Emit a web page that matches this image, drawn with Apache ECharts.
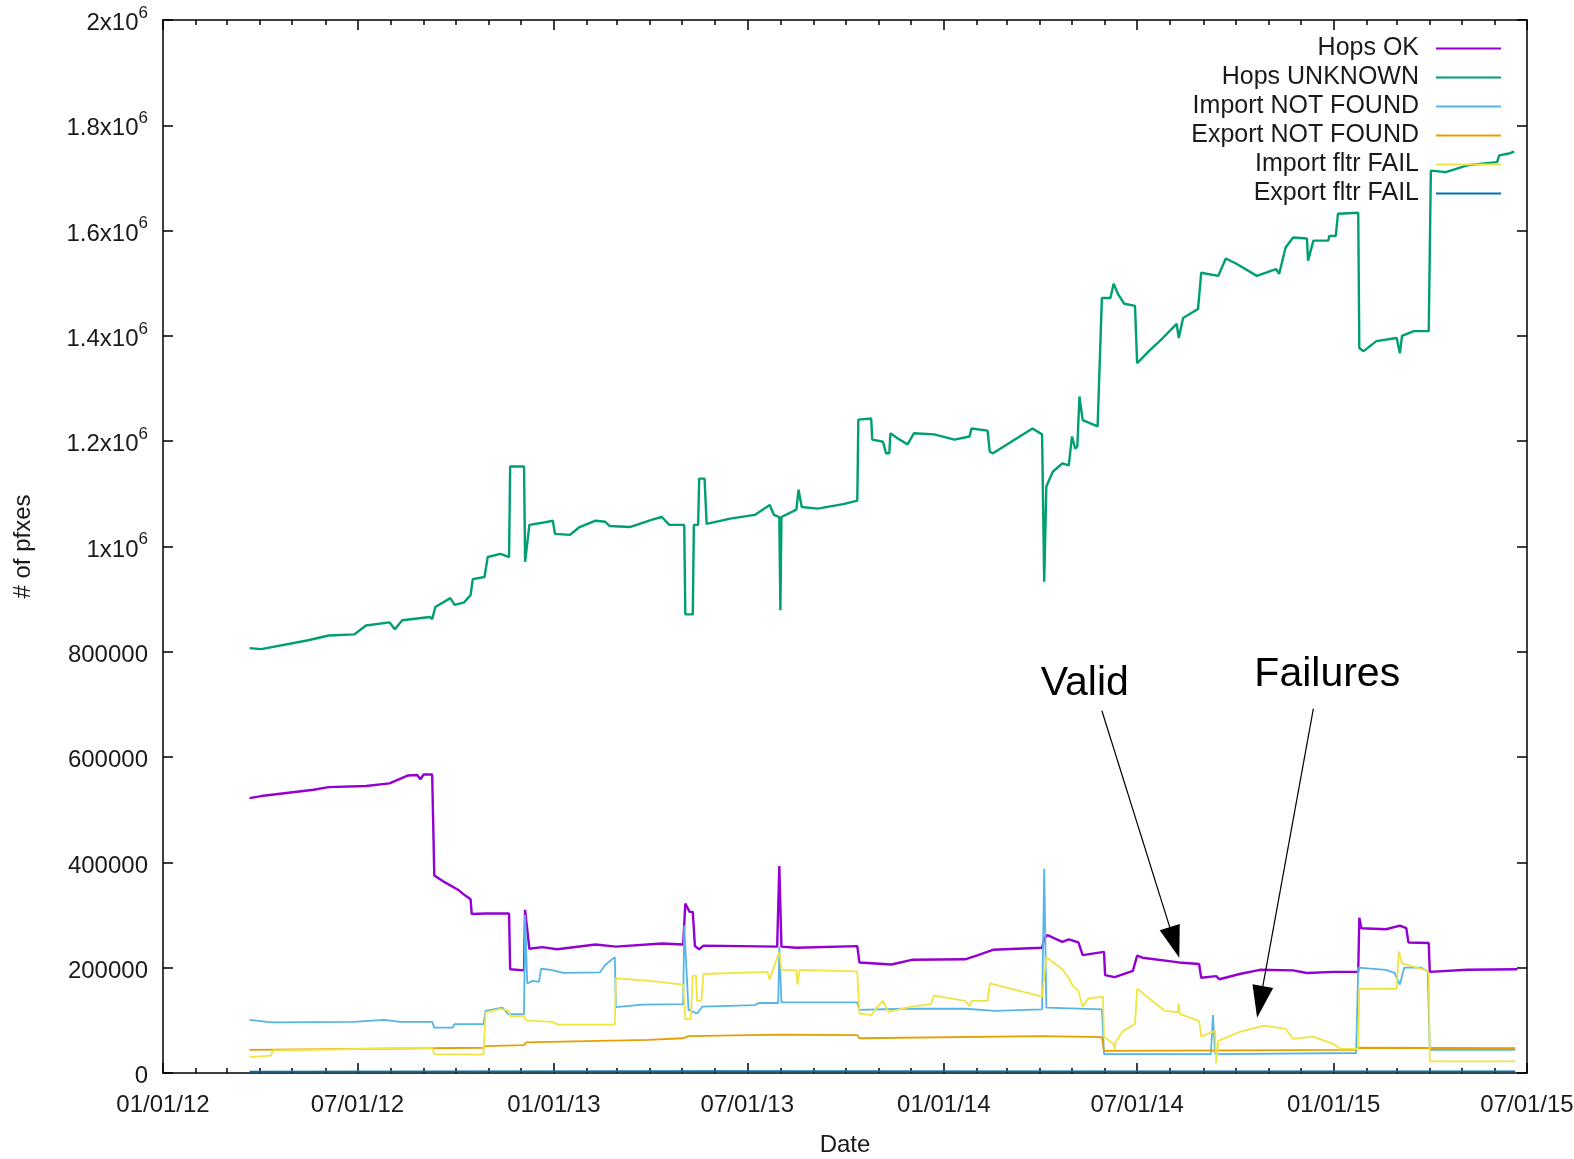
<!DOCTYPE html>
<html>
<head>
<meta charset="utf-8">
<script src="https://cdn.jsdelivr.net/npm/echarts@6/dist/echarts.min.js"></script>
<style>html,body{margin:0;padding:0;background:#fff}#c{width:1574px;height:1159px}</style>
</head>
<body>
<div id="c"></div>
<script>
// ---- data ----
const seriesNames = ['Hops OK', 'Hops UNKNOWN', 'Import NOT FOUND', 'Export NOT FOUND', 'Import fltr FAIL', 'Export fltr FAIL'];
const xTickLabels = ['2012-01-01','2012-07-01','2013-01-01','2013-07-01','2014-01-01','2014-07-01','2015-01-01','2015-07-01'];
const yTicks = [0, 200000, 400000, 600000, 800000, 1000000, 1200000, 1400000, 1600000, 1800000, 2000000];

const hopsOk = [
['2012-03-22',522000],['2012-04-02',526000],['2012-05-21',538000],['2012-06-04',543000],['2012-07-09',545000],['2012-07-31',550000],
['2012-08-17',565000],['2012-08-26',566000],['2012-08-29',558000],['2012-09-01',567000],['2012-09-09',567000],['2012-09-11',375000],
['2012-09-21',362000],['2012-10-04',347000],['2012-10-10',337000],['2012-10-15',330000],['2012-10-16',302000],['2012-10-29',303000],
['2012-11-20',303000],['2012-11-21',197000],['2012-12-04',195000],['2012-12-05',310000],['2012-12-09',236000],['2012-12-21',239000],
['2013-01-04',235000],['2013-02-09',244000],['2013-02-28',240000],['2013-04-12',246000],['2013-05-02',244000],['2013-05-04',322000],
['2013-05-08',306000],['2013-05-11',306000],['2013-05-13',241000],['2013-05-17',235000],['2013-05-21',242000],['2013-07-29',240000],
['2013-07-31',393000],['2013-08-02',240000],['2013-08-16',238000],['2013-10-12',241000],['2013-10-14',210000],['2013-11-13',206000],
['2013-12-02',215000],['2014-01-21',216000],['2014-02-02',224000],['2014-02-16',234000],['2014-04-03',238000],['2014-04-05',255000],
['2014-04-08',262000],['2014-04-22',249000],['2014-04-28',254000],['2014-05-07',248000],['2014-05-11',224000],['2014-05-31',230000],
['2014-06-01',186000],['2014-06-10',182000],['2014-06-27',194000],['2014-07-01',223000],['2014-07-06',219000],['2014-08-09',210000],
['2014-08-28',207000],['2014-08-30',181000],['2014-09-13',184000],['2014-09-16',178000],['2014-10-05',188000],['2014-10-24',196000],
['2014-11-24',195000],['2014-12-07',190000],['2015-01-01',192000],['2015-01-24',192000],['2015-01-25',295000],['2015-01-27',275000],
['2015-02-19',273000],['2015-03-04',280000],['2015-03-10',275000],['2015-03-12',248000],['2015-03-31',247000],['2015-04-01',192000],
['2015-05-06',196000],['2015-06-22',197000]
];

const hopsUnknown = [
['2012-03-22',807000],['2012-04-02',805000],['2012-05-16',822000],['2012-06-04',831000],['2012-06-28',833000],['2012-07-09',850000],
['2012-07-31',856000],['2012-08-05',843000],['2012-08-12',860000],['2012-09-07',866000],['2012-09-09',862000],['2012-09-12',885000],
['2012-09-26',902000],['2012-09-30',889000],['2012-10-09',894000],['2012-10-15',908000],['2012-10-17',938000],['2012-10-28',942000],
['2012-10-31',980000],['2012-11-12',986000],['2012-11-20',980000],['2012-11-21',1152000],['2012-12-04',1152000],['2012-12-05',971000],
['2012-12-09',1041000],['2012-12-21',1045000],['2012-12-31',1049000],['2013-01-02',1024000],['2013-01-16',1022000],['2013-01-25',1037000],
['2013-02-09',1049000],['2013-02-18',1047000],['2013-02-22',1039000],['2013-03-13',1037000],['2013-04-03',1051000],['2013-04-12',1056000],
['2013-04-19',1041000],['2013-05-03',1041000],['2013-05-04',871000],['2013-05-11',871000],['2013-05-12',1041000],['2013-05-16',1041000],
['2013-05-17',1129000],['2013-05-22',1129000],['2013-05-24',1043000],['2013-06-15',1053000],['2013-07-08',1060000],['2013-07-22',1079000],
['2013-07-26',1060000],['2013-07-31',1056000],['2013-08-01',879000],['2013-08-02',1056000],['2013-08-16',1070000],['2013-08-18',1108000],
['2013-08-21',1075000],['2013-09-05',1072000],['2013-09-30',1081000],['2013-10-12',1087000],['2013-10-13',1241000],['2013-10-25',1243000],
['2013-10-26',1203000],['2013-11-05',1199000],['2013-11-08',1177000],['2013-11-11',1177000],['2013-11-12',1215000],['2013-11-19',1205000],
['2013-11-28',1194000],['2013-12-04',1215000],['2013-12-23',1213000],['2014-01-11',1203000],['2014-01-25',1209000],['2014-01-27',1224000],
['2014-02-11',1220000],['2014-02-13',1180000],['2014-02-16',1177000],['2014-03-25',1224000],['2014-04-03',1213000],['2014-04-05',933000],
['2014-04-07',1114000],['2014-04-13',1142000],['2014-04-22',1158000],['2014-04-28',1154000],['2014-05-01',1209000],['2014-05-04',1186000],
['2014-05-06',1190000],['2014-05-08',1285000],['2014-05-11',1240000],['2014-05-25',1228000],['2014-05-29',1472000],['2014-06-06',1472000],
['2014-06-09',1499000],['2014-06-13',1480000],['2014-06-19',1461000],['2014-06-29',1457000],['2014-07-01',1348000],['2014-07-12',1371000],
['2014-07-25',1396000],['2014-08-07',1423000],['2014-08-09',1396000],['2014-08-13',1434000],['2014-08-27',1451000],['2014-08-30',1520000],
['2014-09-15',1514000],['2014-09-22',1547000],['2014-10-02',1537000],['2014-10-21',1514000],['2014-11-08',1527000],['2014-11-11',1518000],
['2014-11-17',1568000],['2014-11-24',1587000],['2014-12-07',1585000],['2014-12-08',1543000],['2014-12-13',1581000],['2014-12-27',1581000],
['2014-12-28',1590000],['2015-01-03',1590000],['2015-01-05',1632000],['2015-01-24',1634000],['2015-01-25',1377000],['2015-01-29',1371000],
['2015-02-10',1390000],['2015-03-01',1396000],['2015-03-04',1367000],['2015-03-06',1400000],['2015-03-17',1409000],['2015-03-31',1409000],
['2015-04-02',1714000],['2015-04-16',1711000],['2015-05-06',1724000],['2015-06-03',1730000],['2015-06-05',1743000],['2015-06-15',1747000],
['2015-06-19',1750000]
];

const importNotFound = [
['2012-03-22',101000],['2012-04-12',96000],['2012-06-27',97000],['2012-07-26',101000],['2012-08-10',97000],['2012-09-09',97000],
['2012-09-11',86000],['2012-09-28',86000],['2012-09-30',93000],['2012-10-27',93000],['2012-10-29',118000],['2012-11-14',124000],
['2012-11-19',112000],['2012-12-04',112000],['2012-12-05',300000],['2012-12-07',170000],['2012-12-12',175000],['2012-12-18',173000],
['2012-12-20',198000],['2012-12-29',196000],['2013-01-10',190000],['2013-02-13',191000],['2013-02-18',205000],['2013-02-27',220000],
['2013-02-28',125000],['2013-03-25',130000],['2013-05-02',131000],['2013-05-03',280000],['2013-05-07',120000],['2013-05-15',113000],
['2013-05-20',126000],['2013-07-08',129000],['2013-07-12',133000],['2013-07-30',133000],['2013-07-31',240000],['2013-08-02',134000],
['2013-10-12',134000],['2013-10-14',120000],['2013-11-25',122000],['2014-01-21',122000],['2014-02-18',118000],['2014-04-03',121000],
['2014-04-05',388000],['2014-04-07',124000],['2014-05-29',121000],['2014-05-31',36000],['2014-09-08',36000],['2014-09-10',110000],
['2014-09-12',36000],['2015-01-22',38000],['2015-01-24',200000],['2015-02-19',196000],['2015-02-27',190000],['2015-03-04',168000],
['2015-03-08',200000],['2015-03-24',200000],['2015-03-30',193000],['2015-04-01',44000],['2015-06-20',44000]
];

const exportNotFound = [
['2012-03-22',44000],['2012-10-27',48000],['2012-10-29',51000],['2012-12-04',53000],['2012-12-06',58000],['2013-03-30',63000],
['2013-05-02',66000],['2013-05-07',70000],['2013-07-31',73000],['2013-10-12',72000],['2013-10-14',66000],['2014-04-03',70000],
['2014-05-29',68000],['2014-05-31',42000],['2015-01-22',44000],['2015-01-24',48000],['2015-06-20',47000]
];

const importFltrFail = [
['2012-03-22',30000],['2012-04-11',33000],['2012-04-13',43000],['2012-09-09',48000],['2012-09-11',36000],['2012-10-27',35000],
['2012-10-29',115000],['2012-11-12',122000],['2012-11-20',118000],['2012-11-21',108000],['2012-12-04',108000],['2012-12-06',100000],
['2012-12-30',97000],['2013-01-05',92000],['2013-02-27',92000],['2013-02-28',180000],['2013-04-01',175000],['2013-05-02',168000],
['2013-05-04',103000],['2013-05-09',102000],['2013-05-11',185000],['2013-05-14',185000],['2013-05-15',137000],['2013-05-19',137000],
['2013-05-21',188000],['2013-07-20',192000],['2013-07-22',177000],['2013-07-24',190000],['2013-07-31',230000],['2013-08-02',196000],
['2013-08-16',195000],['2013-08-17',168000],['2013-08-19',196000],['2013-10-12',193000],['2013-10-14',113000],['2013-10-25',110000],
['2013-10-31',126000],['2013-11-05',137000],['2013-11-10',116000],['2013-12-02',126000],['2013-12-20',131000],['2013-12-23',147000],
['2014-01-21',137000],['2014-01-25',127000],['2014-01-27',137000],['2014-02-11',137000],['2014-02-13',170000],['2014-03-25',150000],
['2014-04-03',145000],['2014-04-07',220000],['2014-04-22',197000],['2014-04-28',180000],['2014-05-02',165000],['2014-05-07',156000],
['2014-05-11',126000],['2014-05-16',141000],['2014-05-30',145000],['2014-05-31',69000],['2014-06-09',55000],['2014-06-10',45000],
['2014-06-11',60000],['2014-06-18',80000],['2014-06-29',93000],['2014-07-01',160000],['2014-07-27',118000],['2014-08-08',115000],
['2014-08-09',132000],['2014-08-10',112000],['2014-08-28',99000],['2014-08-30',69000],['2014-09-12',80000],['2014-09-13',18000],
['2014-09-15',61000],['2014-10-05',78000],['2014-10-28',90000],['2014-11-17',84000],['2014-11-24',65000],['2014-12-13',69000],
['2015-01-01',55000],['2015-01-07',46000],['2015-01-24',46000],['2015-01-25',160000],['2015-03-01',160000],['2015-03-03',231000],
['2015-03-06',208000],['2015-03-29',195000],['2015-03-31',190000],['2015-04-01',22000],['2015-06-20',22000]
];

const exportFltrFail = [['2012-03-22',2500],['2013-06-01',3500],['2014-06-01',3000],['2015-06-20',3000]];

// annotations: text anchors and arrows (date, value)
const annoText = [{ name: 'Valid', coord: ['2014-05-13', 740000] }, { name: 'Failures', coord: ['2014-12-26', 757000] }];
const annoArrows = [
  [['2014-05-29', 688000], ['2014-08-05', 248000]],
  [['2014-12-13', 692000], ['2014-10-24', 135000]]
];

// ---- chart ----
const colors = ['#9400d3', '#009e73', '#56b4e9', '#e69f00', '#f0e442', '#0072b2'];
const widths = [2.4, 2.4, 1.8, 1.8, 1.8, 1.8];
const allData = [hopsOk, hopsUnknown, importNotFound, exportNotFound, importFltrFail, exportFltrFail];
const FONT = 'Liberation Sans, Arial, sans-serif';
const TXT = '#1a1a1a';

function pd(s) { const p = s.split('-').map(Number); return Date.UTC(p[0], p[1] - 1, p[2]); }
const xMin = pd('2012-01-01'), xMax = pd('2015-07-01');
const majorTicks = xTickLabels.map(pd);
const minorTicks = [];
for (let y = 2012; y <= 2015; y++) for (let m = 0; m < 12; m++) {
  const t = Date.UTC(y, m, 1);
  if (t >= xMin && t <= xMax) minorTicks.push(t);
}
function fmtDate(v) {
  const d = new Date(v);
  const mm = String(d.getUTCMonth() + 1).padStart(2, '0');
  const dd = String(d.getUTCDate()).padStart(2, '0');
  const yy = String(d.getUTCFullYear() % 100).padStart(2, '0');
  return mm + '/' + dd + '/' + yy;
}
function fmtY(v) {
  if (v < 1000000) return '{b|' + v + '}';
  const m = Math.round(v / 100000) / 10;
  return '{b|' + m + 'x10}{s|6}';
}

const lineBlack = { color: '#000', width: 1.5 };
function xAx(pos, ticks, len, showLine, showLabel) {
  return {
    type: 'value', position: pos, min: xMin, max: xMax, gridIndex: 0, scale: true,
    axisLine: { show: showLine, onZero: false, lineStyle: lineBlack },
    axisTick: { show: true, inside: true, length: len, customValues: ticks, lineStyle: lineBlack },
    axisLabel: showLabel ? { show: true, customValues: majorTicks, formatter: fmtDate, fontSize: 24, color: TXT, fontFamily: FONT, margin: 20 } : { show: false },
    splitLine: { show: false }
  };
}
const xAxes = [
  Object.assign(xAx('bottom', majorTicks, 10, true, true), {
    name: 'Date', nameLocation: 'middle', nameGap: 60,
    nameTextStyle: { fontSize: 24, color: TXT, fontFamily: FONT }
  }),
  xAx('bottom', minorTicks, 5, false, false),
  xAx('top', majorTicks, 10, true, false),
  xAx('top', minorTicks, 5, false, false)
];
const yAxes = [
  {
    type: 'value', position: 'left', min: 0, max: 2000000, interval: 200000,
    axisLine: { show: true, onZero: false, lineStyle: lineBlack },
    axisTick: { show: true, inside: true, length: 10, lineStyle: lineBlack },
    axisLabel: {
      formatter: fmtY, margin: 15, color: TXT, fontFamily: FONT,
      rich: {
        b: { fontSize: 24, color: TXT, fontFamily: FONT, lineHeight: 31, verticalAlign: 'bottom' },
        s: { fontSize: 17, color: TXT, fontFamily: FONT, lineHeight: 31, verticalAlign: 'top' }
      }
    },
    splitLine: { show: false },
    name: '# of pfxes', nameLocation: 'middle', nameGap: 128, nameRotate: 90,
    nameTextStyle: { fontSize: 24, color: TXT, fontFamily: FONT }
  },
  {
    type: 'value', position: 'right', min: 0, max: 2000000, interval: 200000,
    axisLine: { show: true, onZero: false, lineStyle: lineBlack },
    axisTick: { show: true, inside: true, length: 10, lineStyle: lineBlack },
    axisLabel: { show: false }, splitLine: { show: false }
  }
];

const series = seriesNames.map((name, i) => ({
  name: name, type: 'line', data: allData[i].map(p => [pd(p[0]), p[1]]), xAxisIndex: 0, yAxisIndex: 0,
  symbol: 'none', showSymbol: false, smooth: false, z: 2 + i,
  lineStyle: { color: colors[i], width: widths[i] }, itemStyle: { color: colors[i] },
  emphasis: { disabled: true }
}));
series[5].markLine = {
  silent: true, symbol: ['none', 'triangle'], symbolSize: [1, 24],
  lineStyle: { color: '#000', width: 1.2, type: 'solid' }, label: { show: false },
  data: annoArrows.map(a => [
    { coord: [pd(a[0][0]), a[0][1]], symbol: 'none' },
    { coord: [pd(a[1][0]), a[1][1]], symbol: 'triangle', symbolSize: [21, 32] }
  ])
};
series[5].markPoint = {
  silent: true, symbol: 'rect', symbolSize: 1, itemStyle: { color: 'rgba(0,0,0,0)' },
  label: { show: true, position: 'inside', formatter: '{b}', fontSize: 41, color: '#000', fontFamily: FONT },
  data: annoText.map(t => ({ name: t.name, coord: [pd(t.coord[0]), t.coord[1]] }))
};

const chart = echarts.init(document.getElementById('c'), null, { renderer: 'canvas' });
chart.setOption({
  animation: false,
  backgroundColor: '#fff',
  color: colors,
  grid: { left: 163, right: 47, top: 20, bottom: 86, containLabel: false, outerBoundsMode: 'none' },
  legend: {
    data: seriesNames.map((n, i) => ({ name: n, icon: 'rect', itemStyle: { color: colors[i] } })),
    orient: 'vertical', right: 68, top: 31, align: 'right',
    itemWidth: 65, itemHeight: 2, itemGap: 4,
    textStyle: { fontSize: 25, color: TXT, fontFamily: FONT, padding: [0, 12, 0, 0] },
    selectedMode: false
  },
  xAxis: xAxes,
  yAxis: yAxes,
  series: series
});
</script>
</body>
</html>
